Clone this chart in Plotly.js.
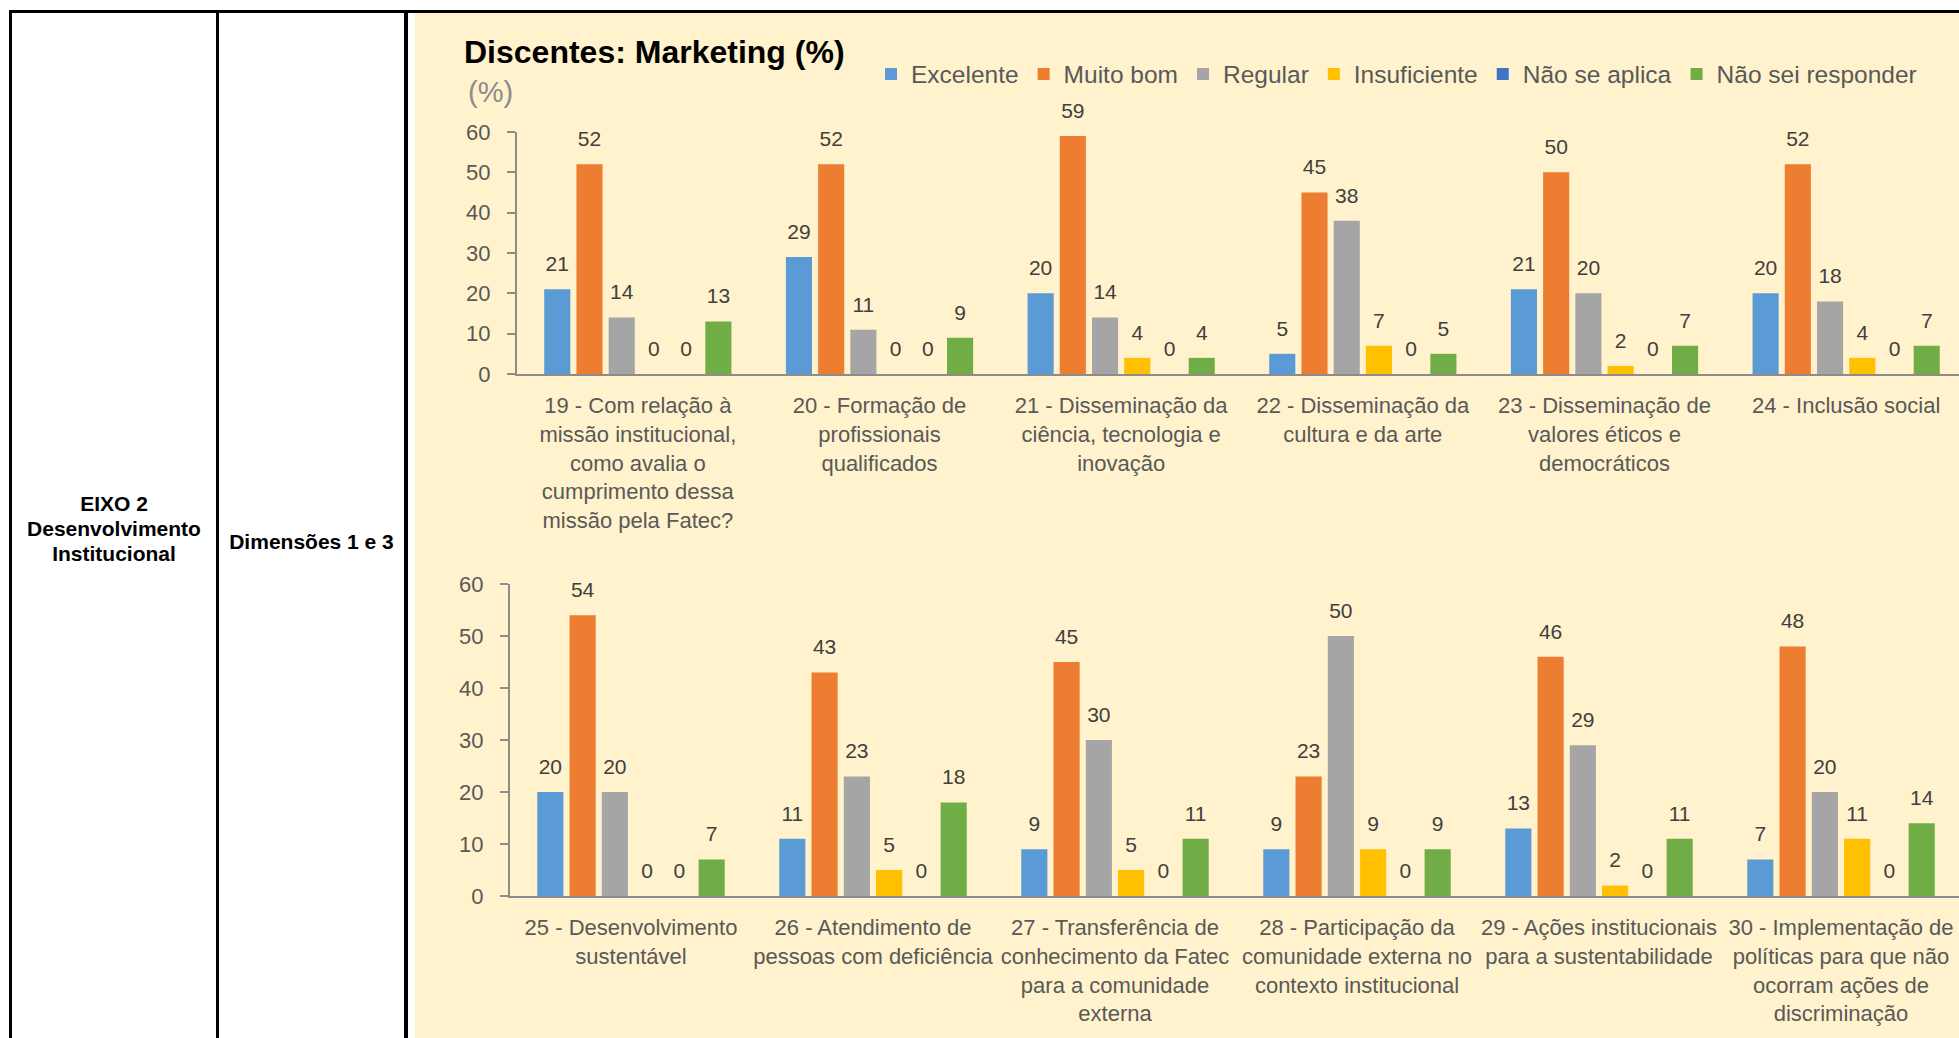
<!DOCTYPE html>
<html>
<head>
<meta charset="utf-8">
<script src="https://cdn.plot.ly/plotly-3.0.1.min.js"></script>
<style>
html,body{margin:0;padding:0;width:1959px;height:1038px;overflow:hidden;background:#fff;font-family:"Liberation Sans",Arial,sans-serif;}
.line{position:absolute;background:#000;}
.cell{position:absolute;text-align:center;font-weight:bold;font-size:21px;line-height:25px;color:#000;}
#chart{position:absolute;left:415px;top:13px;width:1570px;height:1040px;}
</style>
</head>
<body>
<div class="line" style="left:9px;top:10px;width:1950px;height:3px"></div>
<div class="line" style="left:9px;top:10px;width:3px;height:1028px"></div>
<div class="line" style="left:216px;top:10px;width:3px;height:1028px"></div>
<div class="line" style="left:404px;top:10px;width:4px;height:1028px"></div>
<div class="cell" style="left:12px;width:204px;top:491px">EIXO 2<br>Desenvolvimento<br>Institucional</div>
<div class="cell" style="left:219px;width:185px;top:529px">Dimensões 1 e 3</div>
<div id="chart"></div>
<script>
// ---- data ----
const seriesNames = ['Excelente', 'Muito bom', 'Regular', 'Insuficiente', 'Não se aplica', 'Não sei responder'];
const seriesColors = ['#5B9BD5', '#ED7D31', '#A5A5A5', '#FFC000', '#4472C4', '#70AD47'];

const topCategories = [
  '19 - Com relação à<br>missão institucional,<br>como avalia o<br>cumprimento dessa<br>missão pela Fatec?',
  '20 - Formação de<br>profissionais<br>qualificados',
  '21 - Disseminação da<br>ciência, tecnologia e<br>inovação',
  '22 - Disseminação da<br>cultura e da arte',
  '23 - Disseminação de<br>valores éticos e<br>democráticos',
  '24 - Inclusão social'
];
const bottomCategories = [
  '25 - Desenvolvimento<br>sustentável',
  '26 - Atendimento de<br>pessoas com deficiência',
  '27 - Transferência de<br>conhecimento da Fatec<br>para a comunidade<br>externa',
  '28 - Participação da<br>comunidade externa no<br>contexto institucional',
  '29 - Ações institucionais<br>para a sustentabilidade',
  '30 - Implementação de<br>políticas para que não<br>ocorram ações de<br>discriminação'
];

const excelenteTop     = [21, 29, 20, 5, 21, 20];
const muitoBomTop      = [52, 52, 59, 45, 50, 52];
const regularTop       = [14, 11, 14, 38, 20, 18];
const insuficienteTop  = [0, 0, 4, 7, 2, 4];
const naoSeAplicaTop   = [0, 0, 0, 0, 0, 0];
const naoSeiTop        = [13, 9, 4, 5, 7, 7];

const excelenteBottom    = [20, 11, 9, 9, 13, 7];
const muitoBomBottom     = [54, 43, 45, 23, 46, 48];
const regularBottom      = [20, 23, 30, 50, 29, 20];
const insuficienteBottom = [0, 5, 5, 9, 2, 11];
const naoSeAplicaBottom  = [0, 0, 0, 0, 0, 0];
const naoSeiBottom       = [7, 18, 11, 9, 11, 14];

const yTickVals = [0, 10, 20, 30, 40, 50, 60];

// ---- build ----
const FONT = 'Liberation Sans, Arial, sans-serif';
const W = 1570, H = 1040;
const panels = [
  {cats: topCategories, series: [excelenteTop, muitoBomTop, regularTop, insuficienteTop, naoSeAplicaTop, naoSeiTop], xa: 'x', ya: 'y', legend: true},
  {cats: bottomCategories, series: [excelenteBottom, muitoBomBottom, regularBottom, insuficienteBottom, naoSeAplicaBottom, naoSeiBottom], xa: 'x2', ya: 'y2', legend: false}
];

const traces = [];
panels.forEach(p => {
  p.series.forEach((vals, i) => {
    traces.push({
      type: 'bar', x: p.cats, y: vals, name: seriesNames[i],
      marker: {color: seriesColors[i]},
      xaxis: p.xa, yaxis: p.ya, showlegend: p.legend, legendgroup: seriesNames[i],
      hoverinfo: 'skip'
    });
  });
  p.series.forEach((vals, i) => {
    traces.push({
      type: 'scatter', mode: 'markers+text', x: p.cats, y: vals,
      text: vals.map(v => String(v)), textposition: 'top center',
      textfont: {family: FONT, size: 21, color: '#404040'},
      marker: {size: 19, opacity: 0, color: seriesColors[i]},
      xaxis: p.xa, yaxis: p.ya, showlegend: false, cliponaxis: false, hoverinfo: 'skip'
    });
  });
});

const axisColor = '#8C8C8C';
function xAxis(d0, d1, anchor) {
  return {
    domain: [d0 / W, d1 / W], anchor: anchor, type: 'category',
    showline: true, linecolor: axisColor, linewidth: 2, ticks: '', showgrid: false, zeroline: false,
    tickangle: 0, tickfont: {family: FONT, size: 22, color: '#595959'}, ticklabelstandoff: 11,
    fixedrange: true
  };
}
function yAxis(top, bottom, anchor) {
  return {
    domain: [1 - bottom / H, 1 - top / H], anchor: anchor, range: [0, 60],
    tickvals: yTickVals, ticktext: yTickVals.map(String),
    showline: true, linecolor: axisColor, linewidth: 2, ticks: 'outside', ticklen: 8, tickwidth: 2, tickcolor: axisColor,
    showgrid: false, zeroline: false, ticklabelstandoff: 12,
    tickfont: {family: FONT, size: 22, color: '#595959'}, fixedrange: true
  };
}

const layout = {
  width: W, height: H,
  margin: {l: 0, r: 0, t: 0, b: 0, pad: 0},
  paper_bgcolor: '#FFF2CC', plot_bgcolor: 'rgba(0,0,0,0)',
  font: {family: FONT, color: '#595959'},
  barmode: 'group', bargap: 0.2, bargroupgap: 0.19,
  scattermode: 'group', scattergap: 0.2,
  title: {
    text: 'Discentes: Marketing (%)', x: 49 / W, xanchor: 'left', y: 1 - 39 / H, yanchor: 'middle',
    font: {family: FONT, size: 32, color: '#000000', weight: 'bold'}
  },
  showlegend: true,
  legend: {
    orientation: 'h', x: 456 / W, y: 1 - 61 / H, xanchor: 'left', yanchor: 'middle',
    font: {family: FONT, size: 24.5, color: '#595959'}, bgcolor: 'rgba(0,0,0,0)', traceorder: 'normal'
  },
  xaxis: xAxis(102, 1552, 'y'),
  yaxis: yAxis(119, 361, 'x'),
  xaxis2: xAxis(95, 1547, 'y2'),
  yaxis2: yAxis(571, 883, 'x2'),
  annotations: [{
    xref: 'paper', yref: 'paper', x: 51 / W, y: 1 - 79 / H, xanchor: 'left', yanchor: 'middle',
    text: '(%)', showarrow: false, font: {family: FONT, size: 29, color: '#8C8C8C'}
  }]
};

Plotly.newPlot('chart', traces, layout, {displayModeBar: false, staticPlot: true});
</script>
</body>
</html>
